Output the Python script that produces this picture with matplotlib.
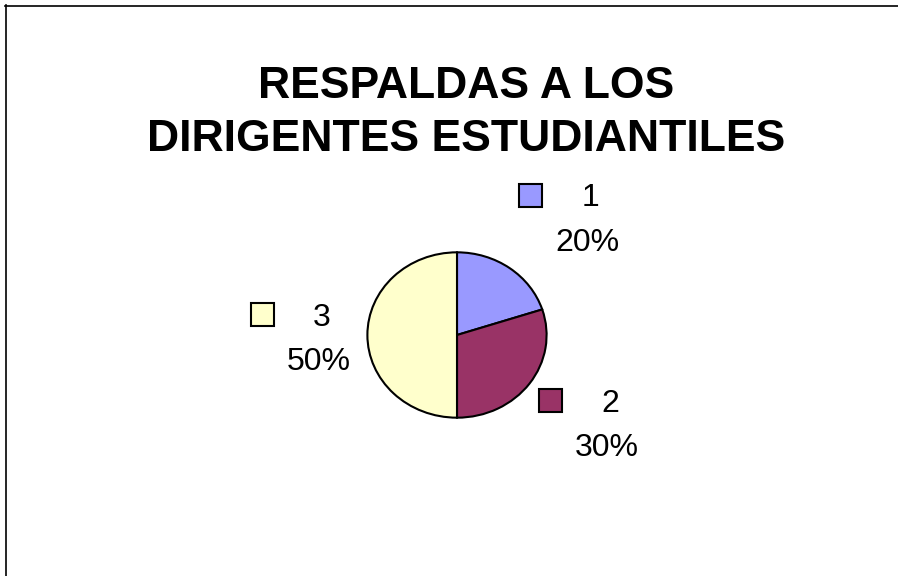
import matplotlib.pyplot as plt
from matplotlib.patches import Rectangle
from matplotlib.lines import Line2D

# Data
categories = ["1", "2", "3"]
values = [20, 30, 50]
colors = ["#9999FF", "#993366", "#FFFFCC"]
title_lines = ["RESPALDAS A LOS", "DIRIGENTES ESTUDIANTILES"]

W, H = 898, 576
plt.rcParams['font.family'] = ['Liberation Sans', 'DejaVu Sans']

fig = plt.figure(figsize=(W / 100, H / 100), dpi=100)


def px(x, y):
    return x / W, 1 - y / H


# chart frame (only top and left edges are visible)
fig.add_artist(Line2D([5.5 / W, 5.5 / W], [1 - 5 / H, 0], color='black', lw=1.2,
                      transform=fig.transFigure))
fig.add_artist(Line2D([5 / W, 1], [1 - 5.5 / H, 1 - 5.5 / H], color='black', lw=1.2,
                      transform=fig.transFigure))

# title
for line, base in zip(title_lines, [98, 151]):
    fig.text(*px(466.5, base), line, ha='center', va='baseline',
             fontsize=32, fontweight='bold')

# pie (slightly elliptical, as in the original)
cx, cy, rx, ry = 457, 335, 90.5, 83.5
ax = fig.add_axes([(cx - rx) / W, 1 - (cy + ry) / H, 2 * rx / W, 2 * ry / H])
ax.pie(values, colors=colors, startangle=90, counterclock=False,
       wedgeprops=dict(edgecolor='black', linewidth=1.5))
ax.set_aspect('auto')
ax.set_xlim(-1.01, 1.01)
ax.set_ylim(-1.01, 1.01)
ax.axis('off')

# labels with legend keys
label_pos = [(530, 195), (550, 400), (262, 314)]
for cat, val, col, (kx, ky) in zip(categories, values, colors, label_pos):
    fig.add_artist(Rectangle(px(kx - 11.5, ky + 11.5), 23 / W, 23 / H,
                             facecolor=col, edgecolor='black', lw=1.5,
                             transform=fig.transFigure))
    fig.text(*px(kx + 60, ky + 11.5), cat, ha='center', va='baseline', fontsize=23)
    fig.text(*px(kx + 57, ky + 56), f"{val}%", ha='center', va='baseline', fontsize=23)

fig.savefig("out.png", dpi=100)
